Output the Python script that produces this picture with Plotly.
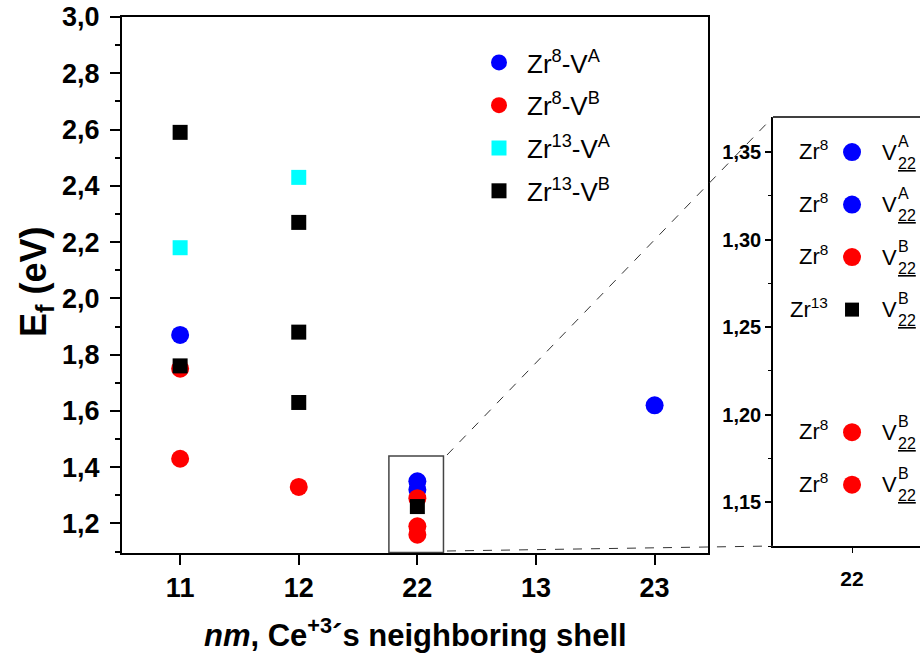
import plotly.graph_objects as go

# ---------------- data ----------------
categories = ["11", "12", "22", "13", "23"]

zr8_va_x = ["11", "22", "22", "23"]
zr8_va_y = [1.87, 1.35, 1.32, 1.62]

zr8_vb_x = ["11", "11", "12", "22", "22", "22"]
zr8_vb_y = [1.75, 1.43, 1.33, 1.29, 1.19, 1.16]

zr13_va_x = ["11", "12"]
zr13_va_y = [2.18, 2.43]

zr13_vb_x = ["11", "11", "12", "12", "12", "22"]
zr13_vb_y = [2.59, 1.76, 2.27, 1.88, 1.63, 1.26]

# inset (zoom of shell 22)
inset_va_y = [1.35, 1.32]
inset_vb_y = [1.29, 1.19, 1.16]
inset_13vb_y = [1.26]
inset_label_y = [1.35, 1.32, 1.29, 1.26, 1.19, 1.16]
inset_left_labels = ["Zr<sup>8</sup>", "Zr<sup>8</sup>", "Zr<sup>8</sup>",
                     "Zr<sup>13</sup>", "Zr<sup>8</sup>", "Zr<sup>8</sup>"]
inset_sup_labels = ["A", "A", "B", "B", "B", "B"]
inset_sub_label = "22"

main_yticks = [1.2, 1.4, 1.6, 1.8, 2.0, 2.2, 2.4, 2.6, 2.8, 3.0]
inset_yticks = [1.15, 1.20, 1.25, 1.30, 1.35]

legend_names = ["Zr<sup>8</sup>-V<sup>A</sup>", "Zr<sup>8</sup>-V<sup>B</sup>",
                "Zr<sup>13</sup>-V<sup>A</sup>", "Zr<sup>13</sup>-V<sup>B</sup>"]

# ---------------- style ----------------
FONT = "Arial, Liberation Sans, sans-serif"
BLUE, RED, CYAN, BLACK = "#0000ff", "#ff0000", "#00ffff", "#000000"
W, H = 920, 668

def px(x):
    return x / W

def py(y):
    return (H - y) / H

fig = go.Figure()

circle = dict(symbol="circle", size=18, line=dict(width=0))
square = dict(symbol="square", size=15, line=dict(width=0))

fig.add_trace(go.Scatter(x=zr8_va_x, y=zr8_va_y, mode="markers", name=legend_names[0],
                         marker=dict(color=BLUE, **circle), legendgroup="a"))
fig.add_trace(go.Scatter(x=zr8_vb_x, y=zr8_vb_y, mode="markers", name=legend_names[1],
                         marker=dict(color=RED, **circle), legendgroup="b"))
fig.add_trace(go.Scatter(x=zr13_va_x, y=zr13_va_y, mode="markers", name=legend_names[2],
                         marker=dict(color=CYAN, **square), legendgroup="c"))
fig.add_trace(go.Scatter(x=zr13_vb_x, y=zr13_vb_y, mode="markers", name=legend_names[3],
                         marker=dict(color=BLACK, **square), legendgroup="d"))

# inset traces
fig.add_trace(go.Scatter(x=[0] * len(inset_va_y), y=inset_va_y, mode="markers", showlegend=False,
                         marker=dict(color=BLUE, **circle), xaxis="x2", yaxis="y2"))
fig.add_trace(go.Scatter(x=[0] * len(inset_vb_y), y=inset_vb_y, mode="markers", showlegend=False,
                         marker=dict(color=RED, **circle), xaxis="x2", yaxis="y2"))
fig.add_trace(go.Scatter(x=[0] * len(inset_13vb_y), y=inset_13vb_y, mode="markers", showlegend=False,
                         marker=dict(color=BLACK, symbol="square", size=14), xaxis="x2", yaxis="y2"))

tickfont_main = dict(family=FONT, size=27, color="black", weight="bold")
tickfont_inset = dict(family=FONT, size=20, color="black", weight="bold")

fig.update_layout(
    width=W, height=H,
    margin=dict(l=0, r=0, t=0, b=0, autoexpand=False),
    paper_bgcolor="white", plot_bgcolor="white",
    separators=",.",
    font=dict(family=FONT, color="black"),
    showlegend=True,
    legend=dict(x=px(471), y=py(39), xanchor="left", yanchor="top",
                font=dict(family=FONT, size=26, color="black"),
                bgcolor="rgba(0,0,0,0)", tracegroupgap=6, itemwidth=46),
    xaxis=dict(domain=[px(122), px(708)], type="category",
               categoryorder="array", categoryarray=categories, automargin=False,
               range=[-0.49, 4.45], showline=True, linewidth=2, linecolor="black",
               mirror=True, ticks="outside", ticklen=10, tickwidth=2, tickcolor="black",
               tickfont=tickfont_main, showgrid=False, zeroline=False, anchor="y"),
    yaxis=dict(domain=[py(553), py(17)], range=[1.095, 3.0], automargin=False,
               tickvals=main_yticks, tickformat=".1f", ticklabelstandoff=5,
               showline=True, linewidth=2, linecolor="black", mirror=True,
               ticks="outside", ticklen=10, tickwidth=2, tickcolor="black",
               minor=dict(dtick=0.1, tick0=1.1, ticks="outside", ticklen=5, tickwidth=2, tickcolor="black"),
               tickfont=tickfont_main, showgrid=False, zeroline=False, anchor="x"),
    xaxis2=dict(domain=[px(773), 1.0], range=[-1.0, 0.86], automargin=False,
                tickvals=[0], ticktext=["22"], showline=True, linewidth=1.5, linecolor="black",
                ticks="outside", ticklen=5, tickwidth=1, tickcolor="black", ticklabelstandoff=8,
                tickfont=dict(family=FONT, size=21, color="black", weight="bold"),
                showgrid=False, zeroline=False, anchor="y2"),
    yaxis2=dict(domain=[py(546), py(117)], range=[1.125, 1.370], automargin=False,
                tickvals=inset_yticks, tickformat=".2f",
                showline=True, linewidth=1.5, linecolor="black",
                ticks="outside", ticklen=6, tickwidth=1.5, tickcolor="black",
                minor=dict(dtick=0.025, tick0=1.125, ticks="outside", ticklen=3, tickwidth=1, tickcolor="black"),
                tickfont=tickfont_inset, showgrid=False, zeroline=False, anchor="x2"),
)

shapes = [
    # zoom rectangle around shell 22
    dict(type="rect", xref="x", yref="y", x0=1.76, x1=2.22, y0=1.097, y1=1.44,
         line=dict(color="#444444", width=1.5)),
    # inset top border
    dict(type="line", xref="paper", yref="paper", x0=px(773), x1=1.0, y0=py(117), y1=py(117),
         line=dict(color="black", width=1.5)),
    # connector dashed lines
    dict(type="line", xref="paper", yref="paper", x0=px(447), y0=py(455), x1=px(773), y1=py(117),
         line=dict(color="#333333", width=1, dash="dash")),
    dict(type="line", xref="paper", yref="paper", x0=px(447), y0=py(551), x1=px(773), y1=py(546),
         line=dict(color="#333333", width=1, dash="dash")),
]
fig.update_layout(shapes=shapes)

annotations = [
    dict(text="E<sub>f</sub> (eV)", xref="paper", yref="paper", x=px(36), y=py(282),
         showarrow=False, textangle=-90, font=dict(family=FONT, size=36, color="black", weight="bold"),
         xanchor="center", yanchor="middle"),
    dict(text="<i>nm</i>, Ce<sup>+3</sup>\u00b4s neighboring shell", xref="paper", yref="paper",
         x=px(415), y=py(633), showarrow=False,
         font=dict(family=FONT, size=31, color="black", weight="bold"),
         xanchor="center", yanchor="middle"),
]
lab_font = dict(family=FONT, size=22, color="black")
small_font = dict(family=FONT, size=16, color="black")
for yv, left, sup in zip(inset_label_y, inset_left_labels, inset_sup_labels):
    annotations.append(dict(text=left, xref="x2", yref="y2", x=0, y=yv, xanchor="right",
                            yanchor="middle", xshift=-22, yshift=2, showarrow=False, font=lab_font))
    annotations.append(dict(text="V", xref="x2", yref="y2", x=0, y=yv, xanchor="left",
                            yanchor="middle", xshift=28, yshift=0, showarrow=False, font=lab_font))
    annotations.append(dict(text=sup, xref="x2", yref="y2", x=0, y=yv, xanchor="left",
                            yanchor="middle", xshift=44, yshift=11, showarrow=False, font=small_font))
    annotations.append(dict(text="<u>" + inset_sub_label + "</u>", xref="x2", yref="y2", x=0, y=yv,
                            xanchor="left", yanchor="middle", xshift=44, yshift=-11,
                            showarrow=False, font=small_font))
fig.update_layout(annotations=annotations)

fig.write_html("out.html")
